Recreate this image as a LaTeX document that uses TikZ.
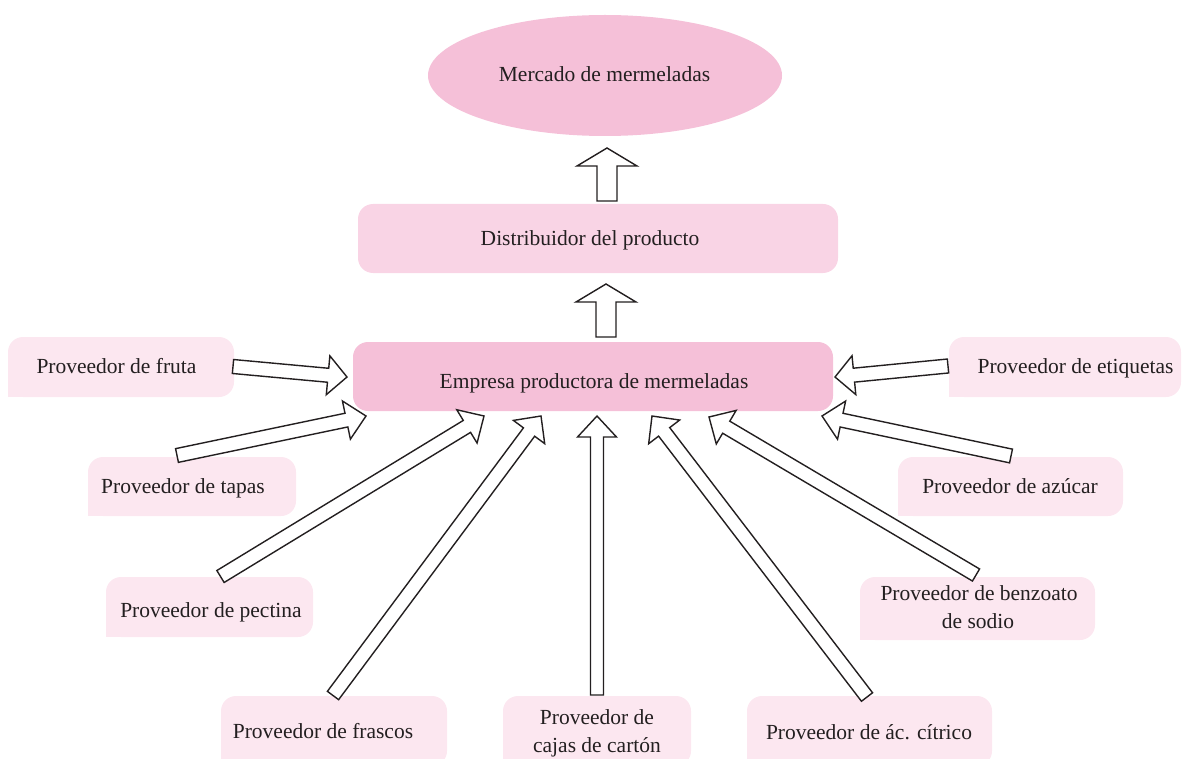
\documentclass[tikz,border=0pt]{standalone}
\usepackage{fontspec}
\setmainfont{Liberation Serif}
\usetikzlibrary{calc,shapes.geometric}
\definecolor{pinkA}{HTML}{F5C0D8}
\definecolor{pinkB}{HTML}{F9D4E5}
\definecolor{pinkC}{HTML}{FCE7F0}
\definecolor{ink}{HTML}{231F20}
\tikzset{
  barr/.style={draw=ink, fill=white, line width=1.4pt, line join=miter},
  rbox/.style={rounded corners=15pt, inner sep=0pt},
  supbox/.style={fill=pinkC, rounded corners=15pt, inner sep=0pt},
  lbl/.style={anchor=base, inner sep=0pt, text=ink},
}
% tail, tip, shaft half width, head half width, head length
\newcommand{\blockarrow}[5]{%
  \path ($(#2)!#5!(#1)$) coordinate (bah);
  \draw[barr] ($(#1)!#3!90:(#2)$) -- ($(bah)!#3!-90:(#1)$) -- ($(bah)!#4!-90:(#1)$)
     -- (#2) -- ($(bah)!#4!90:(#1)$) -- ($(bah)!#3!90:(#1)$) -- ($(#1)!#3!-90:(#2)$) -- cycle;
}
\newcommand{\sqcorner}[1]{\fill[pinkC] (#1.south west) rectangle ++(18pt,18pt);}
\begin{document}
\begin{tikzpicture}[x=1pt, y=-1pt, font=\fontsize{21.5}{26}\selectfont]
\path[use as bounding box] (0,0) rectangle (1182,759);
\clip (0,0) rectangle (1182,759);

% top nodes
\node[ellipse, fill=pinkA, minimum width=354pt, minimum height=121pt, inner sep=0pt] (mercado) at (605,75.5) {};
\node[lbl] (mercadoL) at (604.5,82) {Mercado de mermeladas};

\node[rbox, fill=pinkB, minimum width=480pt, minimum height=69pt] (dist) at (598,238.5) {};
\node[lbl] (distL) at (590,245) {Distribuidor del producto};

\node[rbox, fill=pinkA, minimum width=480pt, minimum height=69pt] (emp) at (593,376.5) {};
\node[lbl] (empL) at (594,388) {Empresa productora de mermeladas};

% suppliers
\node[supbox, minimum width=226pt, minimum height=60pt] (fruta) at (121,367) {};
\sqcorner{fruta}
\node[lbl] (frutaL) at (116.5,373) {Proveedor de fruta};

\node[supbox, minimum width=208pt, minimum height=59pt] (tapas) at (192,486.5) {};
\sqcorner{tapas}
\node[lbl] (tapasL) at (183,493) {Proveedor de tapas};

\node[supbox, minimum width=207pt, minimum height=60pt] (pectina) at (209.5,607) {};
\sqcorner{pectina}
\node[lbl] (pectinaL) at (211,617) {Proveedor de pectina};

\node[supbox, minimum width=226pt, minimum height=70pt] (frascos) at (334,731) {};
\sqcorner{frascos}
\node[lbl] (frascosL) at (323,738) {Proveedor de frascos};

\node[supbox, minimum width=188pt, minimum height=70pt] (cajas) at (597,731) {};
\sqcorner{cajas}
\node[lbl] (cajasL1) at (597,724) {Proveedor de};
\node[lbl] (cajasL2) at (597,752) {cajas de cartón};

\node[supbox, minimum width=245pt, minimum height=70pt] (citrico) at (869.5,731) {};
\sqcorner{citrico}
\node[lbl] (citricoL) at (869,739) {Proveedor de ác. cítrico};

\node[supbox, minimum width=232pt, minimum height=60pt] (etiq) at (1065,367) {};
\sqcorner{etiq}
\node[lbl] (etiqL) at (1075.5,373) {Proveedor de etiquetas};

\node[supbox, minimum width=225pt, minimum height=59pt] (azucar) at (1010.5,486.5) {};
\sqcorner{azucar}
\node[lbl] (azucarL) at (1010,493) {Proveedor de azúcar};

\node[supbox, minimum width=235pt, minimum height=63pt] (benzo) at (977.5,608.5) {};
\sqcorner{benzo}
\node[lbl] (benzoL1) at (979,600) {Proveedor de benzoato};
\node[lbl] (benzoL2) at (978,628) {de sodio};

% arrow end points
\coordinate (dmT) at (607,201);   \coordinate (dmP) at (607,148);
\coordinate (edT) at (606,337);   \coordinate (edP) at (606,284);
\coordinate (frutaT) at (233,366.5);  \coordinate (frutaP) at (347,377);
\coordinate (tapasT) at (177,455.5);  \coordinate (tapasP) at (366,416);
\coordinate (pectinaT) at (220.5,576.5); \coordinate (pectinaP) at (484,416);
\coordinate (frascosT) at (333,695.5); \coordinate (frascosP) at (541,416);
\coordinate (cajasT) at (597,695); \coordinate (cajasP) at (597,416);
\coordinate (citricoT) at (867,697); \coordinate (citricoP) at (652,416);
\coordinate (benzoT) at (976,575); \coordinate (benzoP) at (709,417);
\coordinate (azucarT) at (1011,456); \coordinate (azucarP) at (822,416);
\coordinate (etiqT) at (948,366); \coordinate (etiqP) at (835,377);

% arrows
\blockarrow{dmT}{dmP}{10pt}{30pt}{18pt}
\blockarrow{edT}{edP}{10pt}{30pt}{18pt}
\blockarrow{frutaT}{frutaP}{7pt}{19.5pt}{19pt}
\blockarrow{tapasT}{tapasP}{7pt}{19.5pt}{20pt}
\blockarrow{pectinaT}{pectinaP}{7pt}{19.5pt}{20pt}
\blockarrow{frascosT}{frascosP}{7pt}{19.5pt}{20pt}
\blockarrow{cajasT}{cajasP}{6.5pt}{19.5pt}{21pt}
\blockarrow{citricoT}{citricoP}{7pt}{19.5pt}{20pt}
\blockarrow{benzoT}{benzoP}{7pt}{19.5pt}{20pt}
\blockarrow{azucarT}{azucarP}{7pt}{19.5pt}{20pt}
\blockarrow{etiqT}{etiqP}{7pt}{19.5pt}{19pt}
\end{tikzpicture}
\end{document}
